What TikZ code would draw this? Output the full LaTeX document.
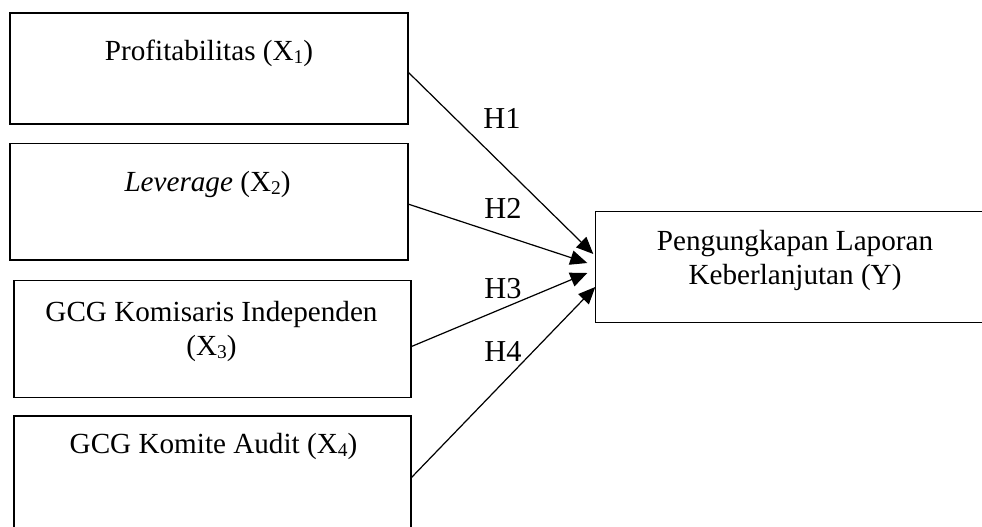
\documentclass[tikz,border=0pt]{standalone}
\usepackage{fontspec}
\setmainfont{Liberation Serif}
\usetikzlibrary{arrows.meta,calc}
\newcommand\Uu{0.4115pt}
\newcommand\sbs[1]{\raisebox{-0.25ex}{\fontsize{8}{9}\selectfont #1}}
\tikzset{
  box/.style={draw, line width=0.6pt, inner sep=0pt, outer sep=0pt},
  txt/.style={anchor=base, inner sep=0pt, font=\fontsize{12}{14}\selectfont},
  hlab/.style={inner sep=0pt, font=\fontsize{12.5}{14}\selectfont},
  arr/.style={line width=0.5pt, -{Triangle[length=7pt,width=6pt]}}
}
\begin{document}
\begin{tikzpicture}[x=\Uu,y=-\Uu]
\useasboundingbox (0,0) rectangle (982,526);
\clip (0,0) rectangle (982,526);
% boxes
\node[box, minimum width=398*\Uu, minimum height=111*\Uu] (b1) at (209,68.4) {};
\node[box, minimum width=398*\Uu, minimum height=116.7*\Uu] (b2) at (209,201.7) {};
\node[box, minimum width=397*\Uu, minimum height=116.7*\Uu] (b3) at (212.5,339) {};
\node[box, minimum width=397*\Uu, minimum height=116*\Uu] (b4) at (212.5,474) {};
\node[box, minimum width=398*\Uu, minimum height=110.6*\Uu] (y) at (794.3,267) {};
% texts
\node[txt] (t1a) at (209,60) {Profitabilitas (X\sbs{1})};
\node[txt] (t2a) at (207.5,191) {\textit{Leverage} (X\sbs{2})};
\node[txt] (t3a) at (211.5,321) {GCG Komisaris Independen};
\node[txt] (t3b) at (211.5,355) {(X\sbs{3})};
\node[txt] (t4a) at (213.5,453) {GCG Komite Audit (X\sbs{4})};
\node[txt] (tya) at (795,250) {Pengungkapan Laporan};
\node[txt] (tyb) at (795,284) {Keberlanjutan (Y)};
% arrow ends
\coordinate (e1) at ($(y.west)+(-2,-13)$);
\coordinate (e2) at ($(y.west)+(-8,-4)$);
\coordinate (e3) at ($(y.west)+(-8,6)$);
\coordinate (e4) at ($(y.west)+(0,20)$);
\coordinate (s1) at ($(b1.east)+(0,3.6)$);
\coordinate (s2) at ($(b2.east)+(0,2.3)$);
\coordinate (s3) at ($(b3.east)+(0,7.7)$);
\coordinate (s4) at ($(b4.east)+(0,4)$);
\draw[arr] (s1) -- (e1);
\draw[arr] (s2) -- (e2);
\draw[arr] (s3) -- (e3);
\draw[arr] (s4) -- (e4);
% labels
\node[hlab] (h1) at (502,118) {H1};
\node[hlab] (h2) at (503,208) {H2};
\node[hlab] (h3) at (503,289) {H3};
\node[hlab] (h4) at (503,351) {H4};
\end{tikzpicture}
\end{document}
